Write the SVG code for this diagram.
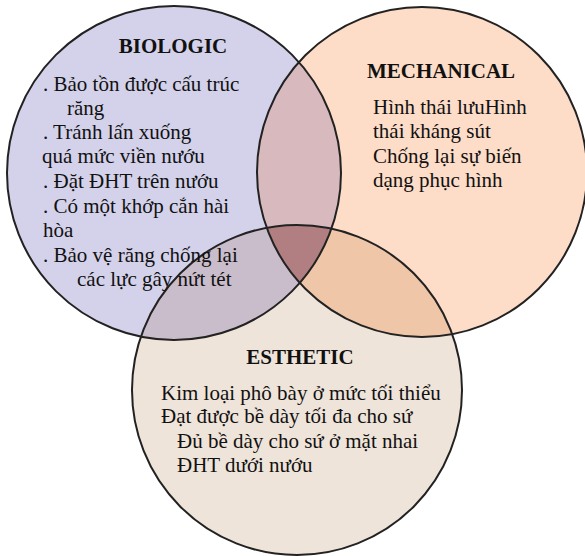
<svg xmlns="http://www.w3.org/2000/svg" width="585" height="556" viewBox="0 0 585 556">
<style>
.title{font-family:"Liberation Serif","Times New Roman","DejaVu Serif",serif;font-size:21px;font-weight:bold;fill:#111;text-anchor:middle}
.body{font-family:"Liberation Serif","Times New Roman","DejaVu Serif",serif;font-size:21px;fill:#111}
.outline{fill:none;stroke:#222;stroke-width:2}
</style>
<defs>
<clipPath id="clipL"><circle cx="174" cy="173" r="167"/></clipPath>
<clipPath id="clipR"><circle cx="422" cy="172" r="165"/></clipPath>
<clipPath id="clipB"><circle cx="297" cy="390" r="165"/></clipPath>
</defs>
<rect width="585" height="556" fill="#ffffff"/>
<g id="fills">
<circle cx="174" cy="173" r="167" fill="#d4d2ea"/>
<circle cx="422" cy="172" r="165" fill="#fddcc8"/>
<circle cx="297" cy="390" r="165" fill="#efe4da"/>
</g>
<g id="overlaps">
<g clip-path="url(#clipL)"><circle cx="422" cy="172" r="165" fill="#d7b9be"/></g>
<g clip-path="url(#clipL)"><circle cx="297" cy="390" r="165" fill="#cabdcb"/></g>
<g clip-path="url(#clipR)"><circle cx="297" cy="390" r="165" fill="#efc7a8"/></g>
<g clip-path="url(#clipL)"><g clip-path="url(#clipR)"><circle cx="297" cy="390" r="165" fill="#b17f81"/></g></g>
</g>
<g id="outlines">
<circle class="outline" cx="174" cy="173" r="167"/>
<circle class="outline" cx="422" cy="172" r="165"/>
<circle class="outline" cx="297" cy="390" r="165"/>
</g>
<g id="biologic">
<text class="title" x="173" y="53">BIOLOGIC</text>
<text class="body" x="43" y="91">. Bảo tồn được cấu trúc</text>
<text class="body" x="67" y="115">răng</text>
<text class="body" x="43" y="139">. Tránh lấn xuống</text>
<text class="body" x="42" y="163">quá mức viền nướu</text>
<text class="body" x="43" y="188">. Đặt ĐHT trên nướu</text>
<text class="body" x="43" y="213">. Có một khớp cắn hài</text>
<text class="body" x="43" y="237">hòa</text>
<text class="body" x="43" y="262">. Bảo vệ răng chống lại</text>
<text class="body" x="77" y="286">các lực gây nứt tét</text>
</g>
<g id="mechanical">
<text class="title" x="441" y="78">MECHANICAL</text>
<text class="body" x="373" y="114">Hình thái lưuHình</text>
<text class="body" x="373" y="138">thái kháng sút</text>
<text class="body" x="373" y="163">Chống lại sự biến</text>
<text class="body" x="373" y="187">dạng phục hình</text>
</g>
<g id="esthetic">
<text class="title" x="300" y="364">ESTHETIC</text>
<text class="body" x="161" y="400">Kim loại phô bày ở mức tối thiểu</text>
<text class="body" x="161" y="423">Đạt được bề dày tối đa cho sứ</text>
<text class="body" x="177" y="448">Đủ bề dày cho sứ ở mặt nhai</text>
<text class="body" x="177" y="472">ĐHT dưới nướu</text>
</g>
</svg>
